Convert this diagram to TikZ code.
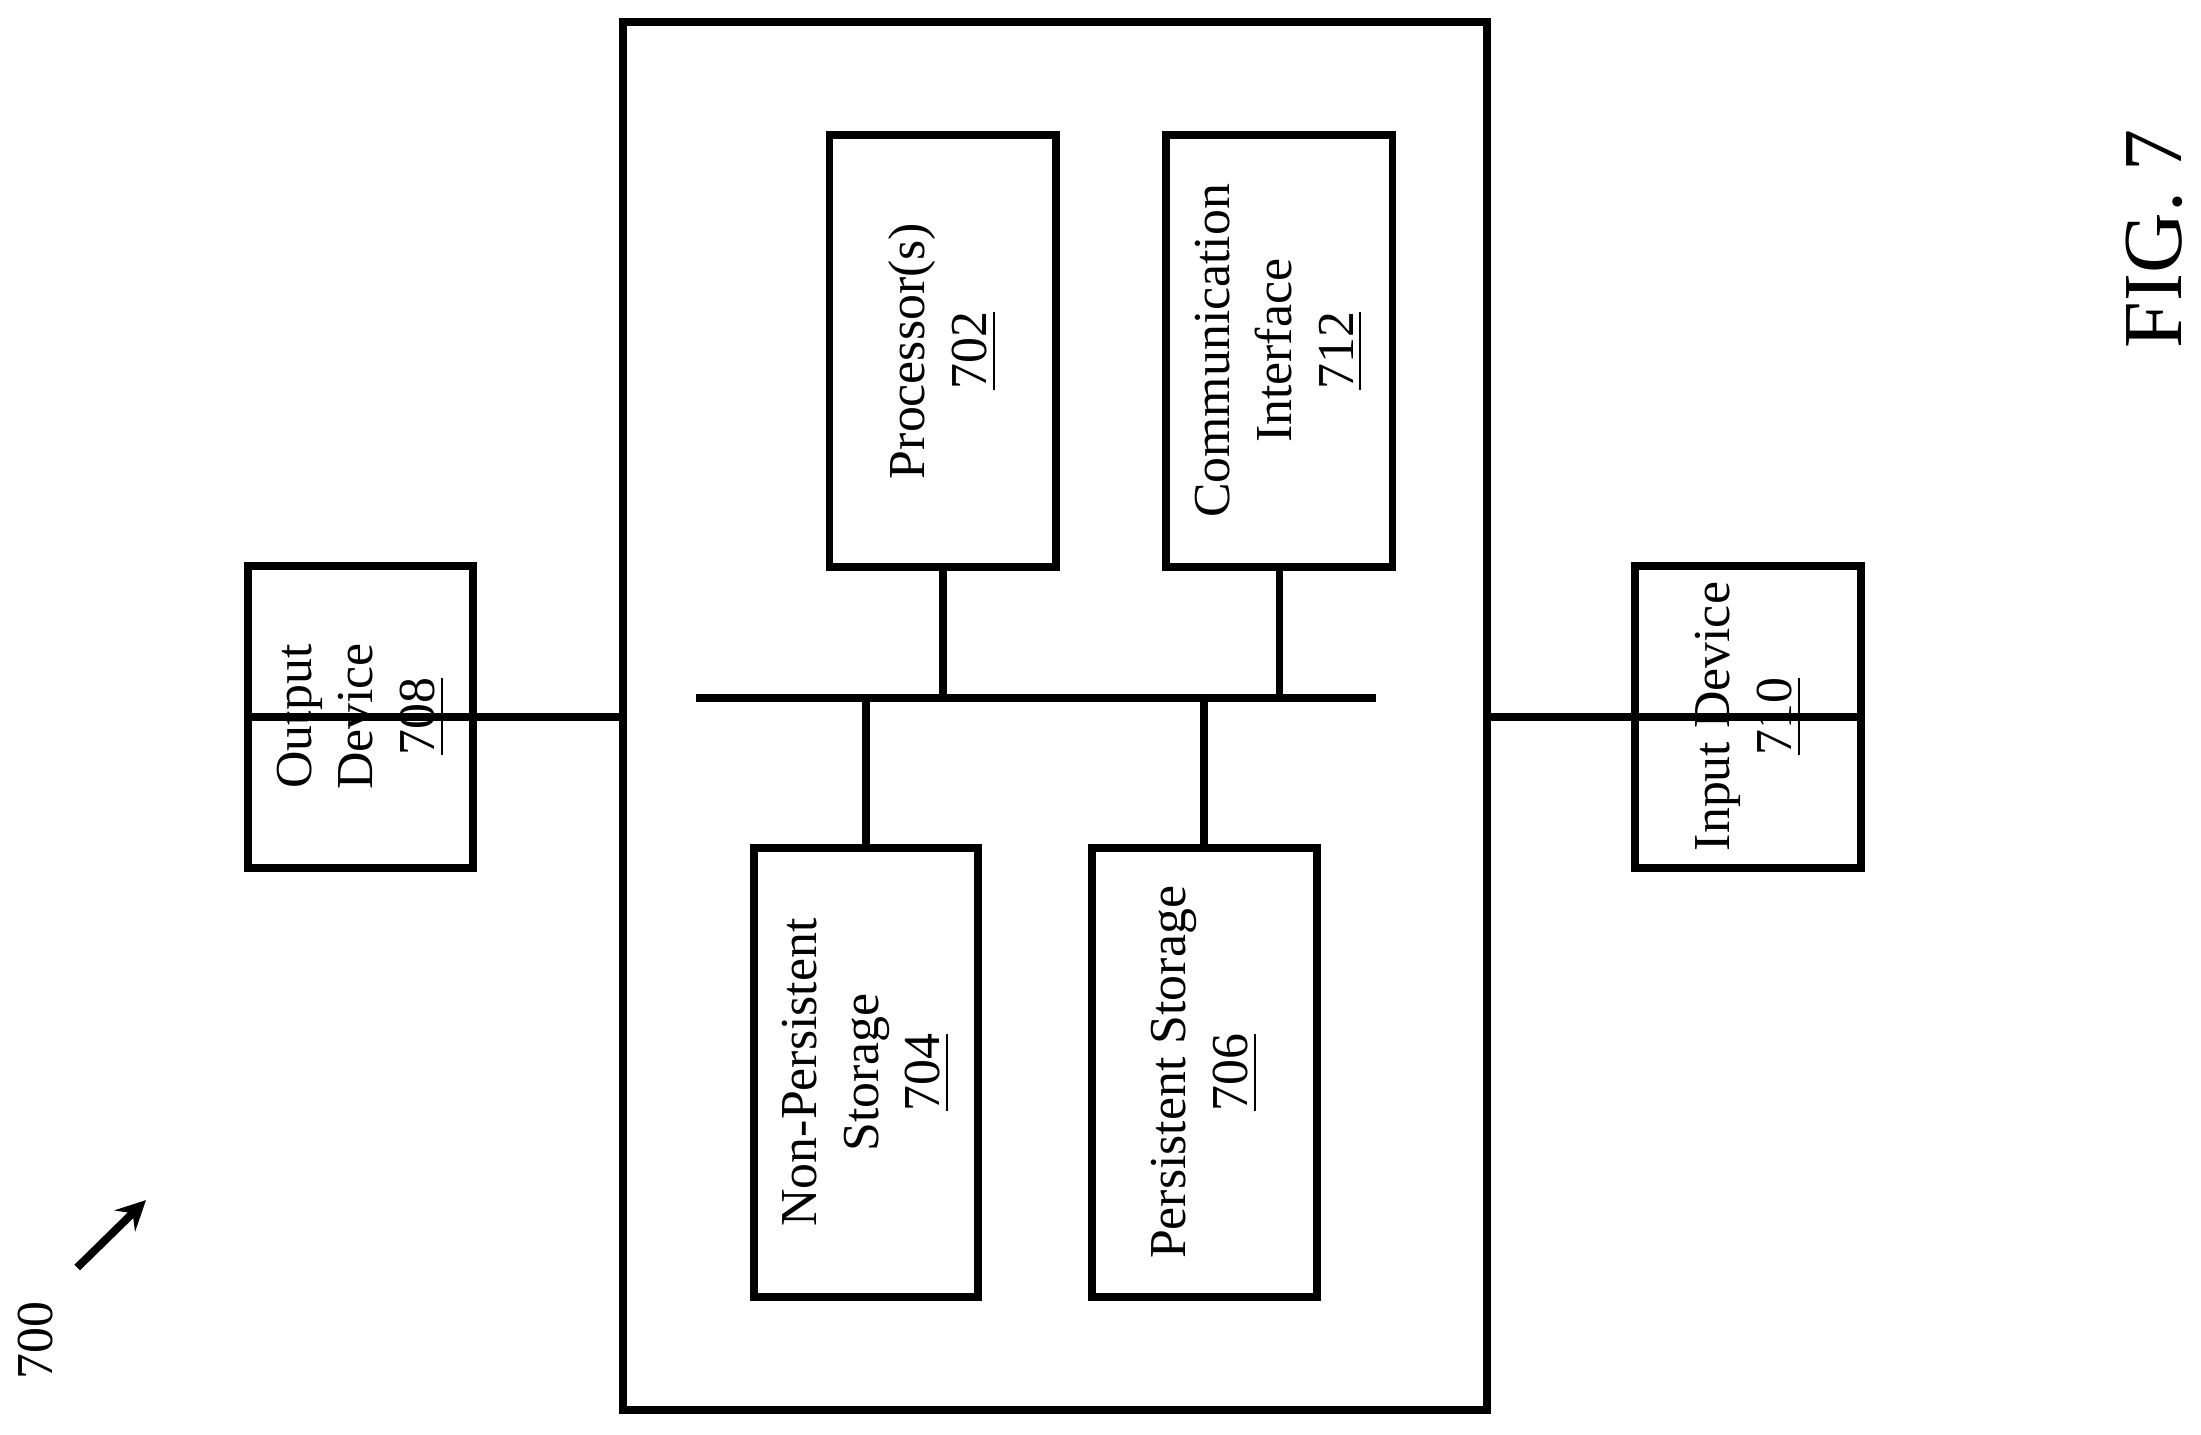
\documentclass[tikz,border=0pt]{standalone}
\usepackage{fontspec}
\setmainfont{Liberation Serif}
\begin{document}
\begin{tikzpicture}[x=0.01cm,y=-0.01cm,line width=1.6pt,
 box/.style={draw,rotate=90,align=center,font=\fontsize{10.5}{12.5}\selectfont,inner sep=0pt}]
\useasboundingbox (0,0) rectangle (1568,1022);
\node[draw,minimum width=6.15cm,minimum height=9.88cm,inner sep=0pt] (outer) at (751.5,510) {};
\node[box,minimum width=3.08cm,minimum height=1.61cm] (proc) at (671.5,250) {Processor(s)\\\underline{702}};
\node[box,minimum width=3.08cm,minimum height=1.61cm] (comm) at (911.5,250) {Communication\\Interface\\\underline{712}};
\node[box,minimum width=3.20cm,minimum height=1.60cm] (nps) at (617,764) {Non-Persistent\\Storage\\\underline{704}};
\node[box,minimum width=3.20cm,minimum height=1.60cm] (ps) at (858,764) {Persistent Storage\\\underline{706}};
\node[box,minimum width=2.15cm,minimum height=1.60cm] (out) at (257,510.5) {Output\\Device\\\underline{708}};
\node[box,minimum width=2.15cm,minimum height=1.61cm] (in) at (1245.5,510.5) {Input Device\\\underline{710}};
\coordinate (bl) at (496,497); \coordinate (br) at (980,497);
\draw (bl) -- (br);
\coordinate (b1) at (671.5,497); \coordinate (b2) at (911.5,497);
\coordinate (b3) at (617,497); \coordinate (b4) at (858,497);
\draw (b1) -- (proc); \draw (b2) -- (comm);
\draw (b3) -- (nps); \draw (b4) -- (ps);
\draw (out.north) -- (out.north -| outer.west);
\draw (in.south) -- (in.south -| outer.east);
\node[rotate=90,font=\fontsize{17}{20}\selectfont] (fig) at (1535,170) {FIG. 7};
\node[rotate=90,font=\fontsize{10.5}{12.5}\selectfont] (lbl) at (25,955) {700};
\coordinate (a1) at (55,903); \coordinate (a2) at (104,855);
\draw[-stealth,line width=1.6pt] (a1) -- (a2);
\end{tikzpicture}
\end{document}
